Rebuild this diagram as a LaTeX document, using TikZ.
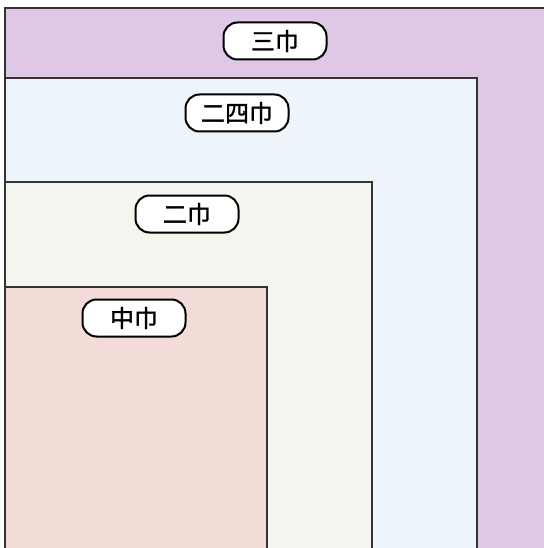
\documentclass[tikz,border=0pt]{standalone}
\usepackage{fontspec}
\newfontfamily\cjkfont[FakeBold=1.2]{Noto Sans CJK JP}
\definecolor{sanpurple}{HTML}{DFC8E6}
\definecolor{nishiblue}{HTML}{EEF5FA}
\definecolor{nigreen}{HTML}{F3F6EE}
\definecolor{chupink}{HTML}{F3DCD7}
\definecolor{edgegray}{HTML}{333333}

\begin{document}
\begin{tikzpicture}[x=1pt,y=-1pt,
	haba/.style={draw=edgegray, line width=1.2pt},
	pill/.style={draw=black, line width=2pt, fill=white, rounded corners=14pt,
		minimum width=103pt, minimum height=37pt, inner sep=0pt,
		font=\cjkfont\fontsize{24}{24}\selectfont}]
		\useasboundingbox (0,0) rectangle (543,548);
		% nested cloths, all from the lower left corner
		\fill[sanpurple] (5,8) rectangle (560,560);
		\fill[nishiblue] (5,78) rectangle (477,560);
		\fill[nigreen] (5,182) rectangle (372,560);
		\fill[chupink] (5,287) rectangle (267,560);
		\draw[haba] (5,560) |- (560,8);
		\draw[haba] (5,78) -| (477,560);
		\draw[haba] (5,182) -| (372,560);
		\draw[haba] (5,287) -| (267,560);
		
		\node[pill] (sanhaba) at (275,41) {三巾};
		\node[pill] (nishihaba) at (237,113) {二四巾};
		\node[pill] (nihaba) at (187,214) {二巾};
		\node[pill] (chuhaba) at (134,318) {中巾};
	\end{tikzpicture}
\end{document}
